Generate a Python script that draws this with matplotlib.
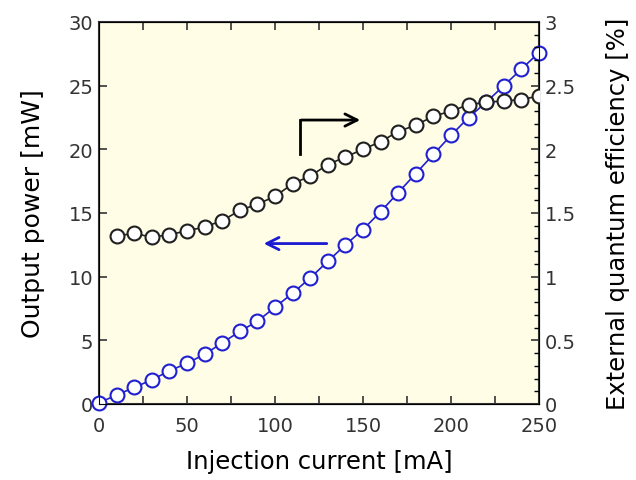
import numpy as np
import matplotlib
matplotlib.use("Agg")
import matplotlib.pyplot as plt
from matplotlib.ticker import MultipleLocator

# injection current [mA]
currentPower = list(range(0, 251, 10))
power = [0.1, 0.7, 1.3, 1.9, 2.6, 3.2, 3.9, 4.8, 5.7, 6.5,
         7.6, 8.7, 9.9, 11.2, 12.5, 13.7, 15.1, 16.6, 18.1, 19.6,
         21.1, 22.5, 23.7, 25.0, 26.3, 27.6]

currentEqe = list(range(10, 251, 10))
eqe = [1.32, 1.34, 1.31, 1.33, 1.36, 1.39, 1.44, 1.52, 1.57, 1.63,
       1.73, 1.79, 1.88, 1.94, 2.00, 2.06, 2.14, 2.19, 2.26, 2.30,
       2.35, 2.37, 2.38, 2.39, 2.42]

plt.rcParams['font.family'] = ['DejaVu Sans']

fig = plt.figure(figsize=(6.36, 4.81), dpi=100)
ax = fig.add_axes([99/636, 76/481, 440/636, 382/481])
ax.set_facecolor('#fffde6')
ax2 = ax.twinx()

ax.plot(currentPower, power, '-o', color='#2020d0', mfc='white', mec='#2020d0',
        ms=10, mew=1.5, lw=1.2, zorder=3, clip_on=False)
ax2.plot(currentEqe, eqe, '-o', color='#202020', mfc='white', mec='#202020',
         ms=10, mew=1.5, lw=1.2, zorder=3)

ax.set_xlim(0, 250)
ax.set_ylim(0, 30)
ax2.set_ylim(0, 3)
ax.xaxis.set_major_locator(MultipleLocator(50))
ax.xaxis.set_minor_locator(MultipleLocator(25))
ax.yaxis.set_major_locator(MultipleLocator(5))
ax2.yaxis.set_minor_locator(MultipleLocator(0.1))
ax2.set_yticks([0, 0.5, 1, 1.5, 2, 2.5, 3], ['0', '0.5', '1', '1.5', '2', '2.5', '3'])

ax.tick_params(axis='x', which='both', direction='in', top=True, length=6, width=1.2,
               labelsize=14, pad=9, colors='#333333')
ax.tick_params(axis='y', which='both', direction='in', length=6, width=1.2,
               labelsize=14, pad=4, colors='#333333')
ax2.tick_params(axis='y', which='major', direction='in', length=6, width=1.2,
                labelsize=14, pad=4, colors='#333333')
ax2.tick_params(axis='y', which='minor', direction='in', length=3.5, width=1.0)

for s in ax.spines.values():
    s.set_linewidth(1.5)
    s.set_color('#333333')

ax.set_xlabel('Injection current [mA]', fontsize=17.5, labelpad=10)
ax.set_ylabel('Output power [mW]', fontsize=18, labelpad=17)
ax2.set_ylabel('External quantum efficiency [%]', fontsize=17.5, labelpad=22)

# bent arrow pointing to the right axis
ax2.plot([114, 114], [1.96, 2.23], color='black', lw=2)
ax2.annotate('', xy=(150, 2.23), xytext=(113.3, 2.23),
             arrowprops=dict(arrowstyle='->', color='black', lw=2, mutation_scale=22))
# arrow pointing to the left axis
ax.annotate('', xy=(92, 12.6), xytext=(131, 12.6),
            arrowprops=dict(arrowstyle='->', color='#1a1ad0', lw=2, mutation_scale=22))

fig.savefig('out.png', dpi=100)
